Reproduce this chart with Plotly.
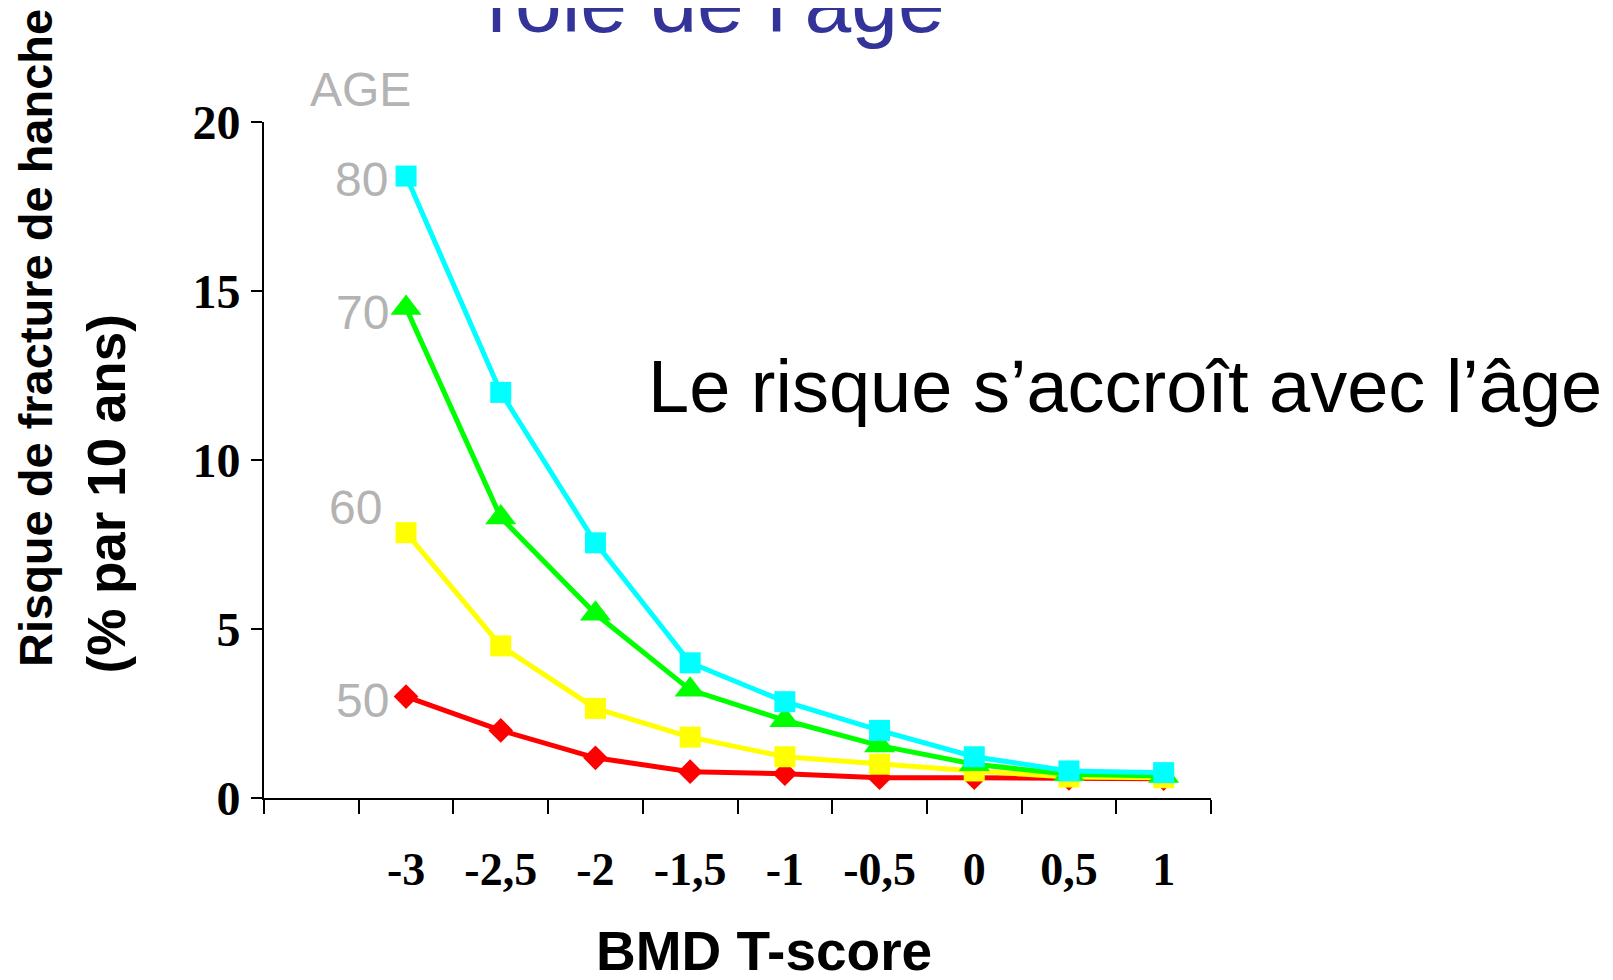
import plotly.graph_objects as go

# ---- data ----
t_scores = [-3, -2.5, -2, -1.5, -1, -0.5, 0, 0.5, 1]
tick_labels = ["-3", "-2,5", "-2", "-1,5", "-1", "-0,5", "0", "0,5", "1"]
age50 = [3.0, 2.0, 1.19, 0.78, 0.72, 0.6, 0.6, 0.58, 0.57]
age60 = [7.85, 4.5, 2.65, 1.8, 1.22, 1.0, 0.8, 0.62, 0.6]
age70 = [14.5, 8.3, 5.45, 3.2, 2.3, 1.55, 1.0, 0.7, 0.65]
age80 = [18.4, 12.0, 7.55, 4.0, 2.85, 2.0, 1.22, 0.8, 0.75]
age_names = ["50", "60", "70", "80"]
y_ticks = [0, 5, 10, 15, 20]

OFF = 8  # page body margin
W, H = 1613, 980
L, T = 264 - OFF, 122 - OFF
PW, PH = 947, 676
R, B = W - L - PW, H - T - PH


def px_x(p):
    return (p - OFF - L) / PW


def px_y(p):
    return (T + PH - (p - OFF)) / PH


fig = go.Figure()

series = [
    (age50, "#FF0000", "diamond", 19),
    (age60, "#FFFF00", "square", 21),
    (age70, "#00FF00", "triangle-up", 27),
    (age80, "#00FFFF", "square", 21),
]
for (vals, col, sym, sz), name in zip(series, age_names):
    fig.add_trace(go.Scatter(
        x=t_scores, y=vals, mode="lines+markers", name=name,
        line=dict(color=col, width=5),
        marker=dict(symbol=sym, size=sz, color=col, line=dict(width=0)),
        showlegend=False, cliponaxis=False,
    ))

serif = "Times New Roman, Liberation Serif, serif"
sans = "Arial, Liberation Sans, sans-serif"

fig.update_layout(
    width=W, height=H, autosize=False,
    margin=dict(l=L, r=R, t=T, b=B, pad=0),
    paper_bgcolor="white", plot_bgcolor="white",
    xaxis=dict(
        range=[-3.75, 1.25], tickmode="array", tickvals=t_scores, ticktext=tick_labels,
        ticks="", showline=True, linecolor="black", linewidth=2,
        showgrid=False, zeroline=False,
        tickfont=dict(family=serif, size=46, color="black", weight="bold"),
        ticklabelstandoff=30,
        minor=dict(ticks="outside", ticklen=14, tickwidth=2, tickcolor="black",
                   tickmode="linear", tick0=-3.75, dtick=0.5, showgrid=False),
    ),
    yaxis=dict(
        range=[0, 20], tickmode="array", tickvals=y_ticks,
        ticks="outside", ticklen=11, tickwidth=2, tickcolor="black",
        showline=True, linecolor="black", linewidth=2,
        showgrid=False, zeroline=False,
        tickfont=dict(family=serif, size=48, color="black", weight="bold"),
        ticklabelstandoff=1,
    ),
)

gray = "#B3B3B3"
age_label_pos = [("AGE", 360, 90), ("80", 361, 179), ("70", 362, 312), ("60", 355, 508), ("50", 362, 700)]
for txt, cx, cy in age_label_pos:
    fig.add_annotation(text=txt, xref="paper", yref="paper", x=px_x(cx), y=px_y(cy),
                       xanchor="center", yanchor="middle", showarrow=False,
                       font=dict(family=sans, size=48, color=gray))

# title (partially cut at the top, as in the reference)
fig.add_annotation(text="rôle de l’âge", xref="paper", yref="paper", x=px_x(716), y=px_y(3),
                   xanchor="center", yanchor="middle", showarrow=False,
                   font=dict(family=sans, size=84, color="#333399"))

# comment text
fig.add_annotation(text="Le risque s’accroît avec l’âge", xref="paper", yref="paper",
                   x=px_x(646), y=px_y(386), xanchor="left", yanchor="middle", showarrow=False,
                   font=dict(family=sans, size=74, color="black"))

# axis titles
fig.add_annotation(text="Risque de fracture de hanche", xref="paper", yref="paper",
                   x=px_x(35), y=px_y(669), xanchor="center", yanchor="bottom", textangle=-90,
                   showarrow=False, font=dict(family=sans, size=47, color="black", weight="bold"))
fig.add_annotation(text="(% par 10 ans)", xref="paper", yref="paper",
                   x=px_x(106), y=px_y(676), xanchor="center", yanchor="bottom", textangle=-90,
                   showarrow=False, font=dict(family=sans, size=53, color="black", weight="bold"))
fig.add_annotation(text="BMD T-score", xref="paper", yref="paper",
                   x=px_x(764), y=px_y(951), xanchor="center", yanchor="middle",
                   showarrow=False, font=dict(family=sans, size=55, color="black", weight="bold"))

fig.write_html("out.html")
